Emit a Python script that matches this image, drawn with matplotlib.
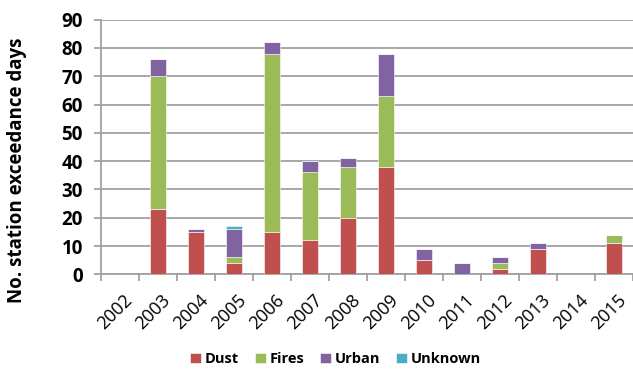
import numpy as np
import matplotlib
matplotlib.use("Agg")
import matplotlib.pyplot as plt

years = ["2002", "2003", "2004", "2005", "2006", "2007", "2008",
         "2009", "2010", "2011", "2012", "2013", "2014", "2015"]
dust = [0, 23, 15, 4, 15, 12, 20, 38, 5, 0, 2, 9, 0, 11]
fires = [0, 47, 0, 2, 63, 24, 18, 25, 0, 0, 2, 0, 0, 3]
urban = [0, 6, 1, 10, 4, 4, 3, 15, 4, 4, 2, 2, 0, 0]
unknown = [0, 0, 0, 1, 0, 0, 0, 0, 0, 0, 0, 0, 0, 0]

series = [("Dust", dust, "#C0504D"),
          ("Fires", fires, "#9BBB59"),
          ("Urban", urban, "#8064A2"),
          ("Unknown", unknown, "#4BACC6")]

plt.rcParams["font.family"] = ["Open Sans", "DejaVu Sans"]

fig = plt.figure(figsize=(6.33, 3.72), dpi=100)
ax = fig.add_axes([0.1596, 0.2626, 0.8404, 0.6845])

x = np.arange(len(years))
bottom = np.zeros(len(years))
for name, vals, color in series:
    vals = np.array(vals, dtype=float)
    ax.bar(x, vals, width=0.4, bottom=bottom, color=color, label=name,
           edgecolor="white", linewidth=0.4, zorder=3)
    bottom += vals

ax.set_xlim(-0.5, len(years) - 0.5)
ax.set_ylim(0, 90)
ax.set_yticks(range(0, 91, 10))
ax.yaxis.grid(True, color="#A0A0A0", linewidth=1.3, zorder=0)
ax.set_axisbelow(True)

for side in ["top", "right"]:
    ax.spines[side].set_visible(False)
for side in ["left", "bottom"]:
    ax.spines[side].set_color("#A0A0A0")
    ax.spines[side].set_linewidth(1.3)

ax.set_xticks(x + 0.08)
ax.set_xticklabels(years, rotation=45, ha="right", va="top",
                   rotation_mode="anchor", fontsize=13)
ax.tick_params(axis="x", length=0, pad=12)
ax.set_xticks(np.arange(-0.5, len(years), 1), minor=True)
ax.tick_params(axis="x", which="minor", length=5, width=1.3, color="#A0A0A0")
ax.tick_params(axis="y", length=5, width=1.3, color="#A0A0A0", pad=8,
               labelsize=13.5)
for lbl in ax.get_yticklabels():
    lbl.set_fontweight("bold")

ax.set_ylabel("No. station exceedance days", fontsize=13.5, fontweight="bold")
ax.yaxis.set_label_coords(-0.139, 0.41)

fig.legend(loc="center", bbox_to_anchor=(0.53, 0.035), ncol=4, frameon=False,
           prop={"size": 10.5, "weight": "bold"}, handlelength=0.75,
           handleheight=0.75, handletextpad=0.25, columnspacing=1.1)

fig.savefig("out.png", dpi=100)
